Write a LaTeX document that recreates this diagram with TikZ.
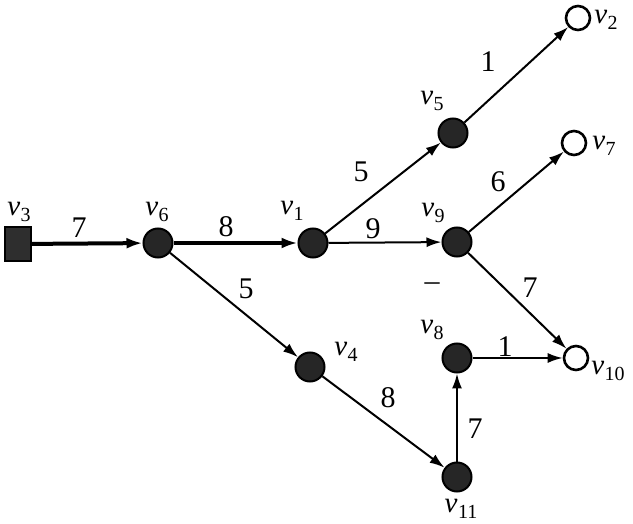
\documentclass[tikz,border=0pt]{standalone}
\usepackage{fontspec}
\setmainfont{Liberation Serif}
\usetikzlibrary{arrows.meta}
\newcommand{\vlab}[1]{{\itshape v}\kern0.5pt\raisebox{-0.4ex}{\fontsize{20}{20}\selectfont\upshape #1}}
\begin{document}
\begin{tikzpicture}[x=1pt,y=-1pt,
  full/.style={circle,draw=black,line width=2pt,fill=black!85,minimum size=29pt,inner sep=0pt},
  open/.style={circle,draw=black,line width=2.6pt,fill=white,minimum size=24pt,inner sep=0pt},
  src/.style={rectangle,draw=black,line width=2pt,fill=black!82,minimum width=26pt,minimum height=34pt,inner sep=0pt},
  lab/.style={font=\fontsize{29}{29}\selectfont,inner sep=0pt},
  wt/.style={font=\fontsize{30}{30}\selectfont,inner sep=0pt},
  edge/.style={line width=2pt,-{Latex[length=15pt,width=10pt]}},
  tedge/.style={line width=4pt,-{Latex[length=16pt,width=11pt]}}]
\useasboundingbox (0,0) rectangle (633,524);
% vertices
\node[src]  (v3)  at (18,244) {};
\node[full] (v6)  at (158,243) {};
\node[full] (v1)  at (313,243) {};
\node[full] (v5)  at (453,133) {};
\node[open] (v2)  at (578,18) {};
\node[open] (v7)  at (574,143) {};
\node[full] (v9)  at (457,242) {};
\node[open] (v10) at (576,358) {};
\node[full] (v8)  at (457,358) {};
\node[full] (v4)  at (310,367) {};
\node[full] (v11) at (457,477) {};
% edges
\draw[tedge] (v3) -- (v6);
\draw[tedge] (v6) -- (v1);
\draw[edge] (v6) -- (v4);
\draw[edge] (v1) -- (v5);
\draw[edge] (v1) -- (v9);
\draw[edge] (v5) -- (v2);
\draw[edge] (v9) -- (v7);
\draw[edge] (v9) -- (v10);
\draw[edge] (v8) -- (v10);
\draw[edge] (v4) -- (v11);
\draw[edge] (v11) -- (v8);
% vertex labels
\node[lab] (l3)  at (19,212) {\vlab{3}};
\node[lab] (l6)  at (157,212) {\vlab{6}};
\node[lab] (l1)  at (292,211) {\vlab{1}};
\node[lab] (l5)  at (432,101) {\vlab{5}};
\node[lab] (l2)  at (606,20) {\vlab{2}};
\node[lab] (l7)  at (604,146) {\vlab{7}};
\node[lab] (l9)  at (433,213) {\vlab{9}};
\node[lab] (l8)  at (432,330) {\vlab{8}};
\node[lab] (l10) at (608,371) {\vlab{10}};
\node[lab] (l4)  at (346,352) {\vlab{4}};
\node[lab] (l11) at (461,509) {\vlab{11}};
% weights
\node[wt] (w36)  at (79,228) {7};
\node[wt] (w61)  at (226,227) {8};
\node[wt] (w19)  at (373,229) {9};
\node[wt] (w15)  at (361,172) {5};
\node[wt] (w52)  at (488,62) {1};
\node[wt] (w97)  at (498,182) {6};
\node[wt] (w910) at (530,288) {7};
\node[wt] (w810) at (505,347) {1};
\node[wt] (w64)  at (246,289) {5};
\node[wt] (w411) at (388,398) {8};
\node[wt] (w118) at (475,429) {7};
\node[wt] (dash) at (432,287) {–};
\end{tikzpicture}
\end{document}
